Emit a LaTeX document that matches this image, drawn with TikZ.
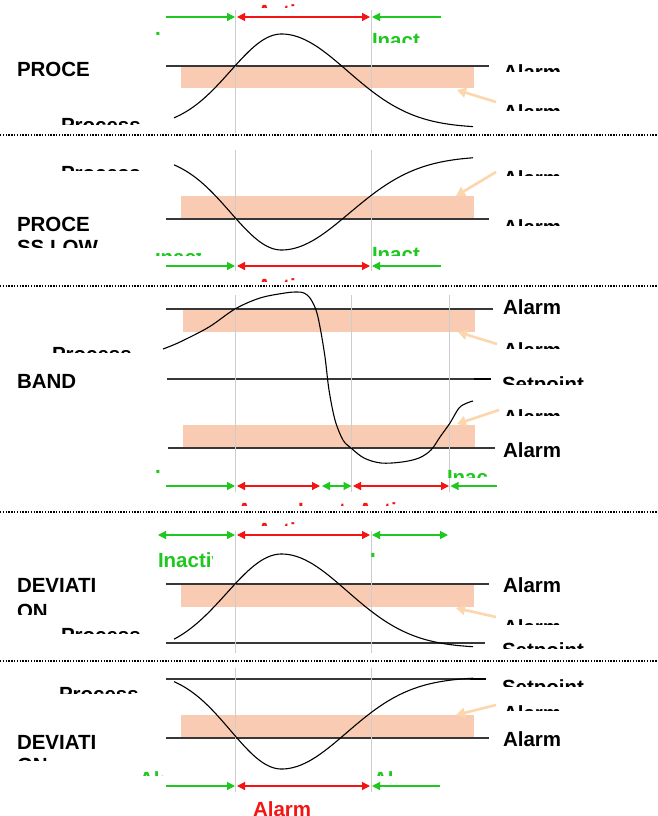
\documentclass[tikz,border=0pt]{standalone}
\usepackage{fontspec}
\setmainfont{Liberation Sans}
\usetikzlibrary{arrows.meta}
\definecolor{grn}{RGB}{30,200,30}
\definecolor{redc}{RGB}{245,20,20}
\definecolor{bandc}{RGB}{248,203,178}
\definecolor{peach}{RGB}{252,214,172}
\definecolor{vgray}{RGB}{205,205,205}
\definecolor{lgray}{RGB}{55,55,55}
\tikzset{
  lbl/.style={font=\bfseries\fontsize{20.5}{24}\selectfont, anchor=base west, inner sep=0pt, outer sep=0pt},
  sepline/.style={draw=black, line width=1.3pt, dash pattern=on 1.3pt off 1.5pt},
  vln/.style={draw=vgray, line width=0.8pt},
  lim/.style={draw=lgray, line width=1.1pt},
  bandbox/.style={fill=bandc, draw=none},
  curve/.style={draw=black, line width=1.1pt},
  ptr/.style={draw=peach, line width=2.6pt, -{Triangle[length=9pt,width=10pt]}},
  garr/.style={draw=grn, line width=1.2pt},
  rarr/.style={draw=redc, line width=1.2pt},
  >={Triangle[length=8pt,width=8pt]}
}
\newcommand\clab[9]{\begin{scope}\clip (#5,#6) rectangle (#7,#8);\node[lbl,text=#2] (#1) at (#3,#4+14.2) {#9};\end{scope}}
\begin{document}
\begin{tikzpicture}[x=1pt,y=-1pt]
\useasboundingbox (0,0) rectangle (657,816);
\fill[white] (0,0) rectangle (657,816);

% separators
\foreach \yy/\nm in {135/s1,286/s2,512/s3,661/s4}{
  \coordinate (\nm a) at (0,\yy); \coordinate (\nm b) at (657,\yy);
  \draw[sepline] (\nm a) -- (\nm b);}

%%%%%%%%%%%%%%%% PANEL 1: PROCESS HIGH
\fill[bandbox] (181,66) rectangle (474,88);
\draw[lim] (166,66) -- (489,66);
\draw[vln] (235,10) -- (235,133);
\draw[vln] (371,10) -- (371,133);
\draw[curve] plot[domain=174:281.5,samples=40,smooth] (\x,{128-94*exp(-0.5*((\x-281.5)/51)^2)})
  -- plot[domain=281.5:473,samples=50,smooth] (\x,{128-94*exp(-0.5*((\x-281.5)/66)^2)});
\draw[ptr] (496,102) -- (457,90);
\draw[garr,->] (166,17) -- (235,17);
\draw[rarr,<->] (237,17) -- (370,17);
\draw[garr,->] (441,17) -- (372,17);
\node[lbl] (p1title) at (17,76.5) {PROCE};
\clab{p1proc}{black}{61}{118}{0}{100}{200}{124}{Process}
\clab{p1al1}{black}{503}{65}{490}{50}{657}{71.7}{Alarm}
\clab{p1al2}{black}{503}{105}{490}{95}{657}{110}{Alarm}
\clab{p1act}{redc}{257}{5.5}{200}{0}{350}{7.3}{Active}
\clab{p1inL}{grn}{155}{32}{153}{25}{160}{34.5}{Inactive}
\clab{p1inR}{grn}{372}{33}{365}{25}{419}{43}{Inactive}

%%%%%%%%%%%%%%%% PANEL 2: PROCESS LOW
\fill[bandbox] (181,196) rectangle (474,219);
\draw[lim] (166,219) -- (489,219);
\draw[vln] (235,150) -- (235,271);
\draw[vln] (371,150) -- (371,271);
\draw[curve] plot[domain=174:281.5,samples=40,smooth] (\x,{154.5+95.5*exp(-0.5*((\x-281.5)/51)^2)})
  -- plot[domain=281.5:473,samples=50,smooth] (\x,{156+94*exp(-0.5*((\x-281.5)/68)^2)});
\draw[ptr] (496,172) -- (456,196);
\draw[garr,->] (166,266) -- (235,266);
\draw[rarr,<->] (237,266) -- (370,266);
\draw[garr,->] (441,266) -- (372,266);
\node[lbl] (p2title) at (17,231.5) {PROCE};
\clab{p2titleb}{black}{17}{240}{0}{235}{150}{247}{SS LOW}
\clab{p2proc}{black}{61}{166}{0}{150}{200}{170.5}{Process}
\clab{p2al1}{black}{503}{171}{490}{160}{657}{175}{Alarm}
\clab{p2al2}{black}{503}{220}{490}{210}{657}{225}{Alarm}
\clab{p2inL}{grn}{155}{250}{150}{253.5}{200}{255.5}{Inactive}
\clab{p2inR}{grn}{372}{247}{365}{240}{419}{255}{Inactive}
\clab{p2act}{redc}{257}{279.5}{200}{270}{350}{281.8}{Active}

%%%%%%%%%%%%%%%% PANEL 3: BAND
\fill[bandbox] (183,309) rectangle (475,332);
\fill[bandbox] (183,425) rectangle (475,448);
\draw[lim] (166,309) -- (493,309);
\draw[lim] (167,379) -- (491,379);
\draw[draw=black, line width=1.5pt] (474,379) -- (491,379);
\draw[lim] (168,448) -- (495,448);
\draw[vln] (235,295) -- (235,492);
\draw[vln] (351.5,295) -- (351.5,492);
\draw[vln] (449.5,295) -- (449.5,492);
\draw[curve] plot[smooth,tension=0.55] coordinates {
 (163,349) (180,342) (209,327) (235,309) (260,298) (285,293) (297,292) (304,293)
 (310,298) (316,310) (320,327) (325,357) (329,390) (335,420) (343,440) (351,448)
 (364,458) (381,463) (402,462) (419,458) (431,450) (440,437) (450,423) (459,408)
 (467,403) (473,401)};
\draw[ptr] (497,344) -- (458,332);
\draw[ptr] (499,410) -- (457,424);
\draw[garr,->] (166,486) -- (235,486);
\draw[rarr,<->] (237,486) -- (320,486);
\draw[garr,<->] (322,486) -- (351.5,486);
\draw[rarr,<->] (353,486) -- (449,486);
\draw[garr,->] (497,486) -- (450.5,486);
\node[lbl] (p3title) at (17,388.5) {BAND};
\clab{p3proc}{black}{52}{347}{0}{340}{200}{352}{Process}
\node[lbl] (p3al1) at (503,314.2) {Alarm};
\clab{p3al2}{black}{503}{343}{490}{335}{657}{348}{Alarm}
\clab{p3sp}{black}{502}{377}{490}{370}{657}{384}{Setpoint}
\clab{p3al3}{black}{503}{410}{490}{400}{657}{415}{Alarm}
\node[lbl] (p3al4) at (503,457.2) {Alarm};
\clab{p3inL}{grn}{155}{470}{153}{465}{160}{472.5}{Inactive}
\clab{p3inR}{grn}{447}{470}{440}{465}{487}{477}{Inactive}
\clab{p3act1}{redc}{237}{503.5}{230}{495}{253}{505.5}{Active}
\clab{p3ina}{redc}{298}{503.5}{296}{495}{350}{505.5}{Inact}
\clab{p3act2}{redc}{358}{503.5}{356}{495}{420}{505.5}{Active}

%%%%%%%%%%%%%%%% PANEL 4: DEVIATION HIGH
\fill[bandbox] (181,584) rectangle (474,607);
\draw[lim] (166,584) -- (489,584);
\draw[lim] (166,643) -- (485,643);
\draw[vln] (235,531) -- (235,653);
\draw[vln] (371,531) -- (371,653);
\draw[curve] plot[domain=174:281.5,samples=40,smooth] (\x,{654-100*exp(-0.5*((\x-281.5)/55)^2)})
  -- plot[domain=281.5:473,samples=50,smooth] (\x,{648-94*exp(-0.5*((\x-281.5)/65.5)^2)});
\draw[ptr] (496,617) -- (456,608);
\draw[garr,<->] (158,535) -- (235,535);
\draw[rarr,<->] (237,535) -- (370,535);
\draw[garr,<->] (372,535) -- (448,535);
\node[lbl] (p4title) at (17,592.2) {DEVIATI};
\clab{p4titleb}{black}{17}{604}{0}{600}{150}{614}{ON}
\clab{p4proc}{black}{61}{628}{0}{620}{200}{633}{Process}
\node[lbl] (p4al1) at (503,592.2) {Alarm};
\clab{p4al2}{black}{503}{620}{490}{610}{657}{624}{Alarm}
\clab{p4sp}{black}{502}{643}{490}{636}{657}{648.5}{Setpoint}
\clab{p4act}{redc}{257}{523}{200}{515}{350}{525}{Active}
\clab{p4inL}{grn}{158}{553}{150}{545}{212}{567}{Inactive}
\clab{p4inR}{grn}{370}{553}{369}{545}{376}{556.5}{Inactive}

%%%%%%%%%%%%%%%% PANEL 5: DEVIATION LOW
\fill[bandbox] (181,715) rectangle (474,738);
\draw[lim] (166,679) -- (486,679);
\draw[draw=black, line width=1.5pt] (470,679) -- (486,679);
\draw[lim] (166,738) -- (489,738);
\draw[vln] (235,668) -- (235,792);
\draw[vln] (371,668) -- (371,792);
\draw[curve] plot[domain=174:281.5,samples=40,smooth] (\x,{671+98*exp(-0.5*((\x-281.5)/51)^2)})
  -- plot[domain=281.5:473,samples=50,smooth] (\x,{677+92*exp(-0.5*((\x-281.5)/65)^2)});
\draw[ptr] (496,705) -- (456,715);
\draw[garr,->] (166,786) -- (235,786);
\draw[rarr,<->] (237,786) -- (370,786);
\draw[garr,->] (440,786) -- (372,786);
\node[lbl] (p5title) at (17,749.2) {DEVIATI};
\clab{p5titleb}{black}{17}{758}{0}{755}{150}{760.5}{ON}
\clab{p5proc}{black}{59}{687}{0}{680}{200}{693}{Process}
\clab{p5sp}{black}{502}{680}{490}{672}{657}{686}{Setpoint}
\clab{p5al1}{black}{503}{706}{490}{698}{657}{710.5}{Alarm}
\node[lbl] (p5al2) at (503,746.2) {Alarm};
\clab{p5alL}{grn}{139}{772.5}{135}{765}{162}{775.5}{Alarm}
\clab{p5alR}{grn}{373}{772.5}{368}{765}{395}{775.5}{Alarm}
\node[lbl,text=redc] (p5alarm) at (253,816.2) {Alarm};
\end{tikzpicture}
\end{document}
